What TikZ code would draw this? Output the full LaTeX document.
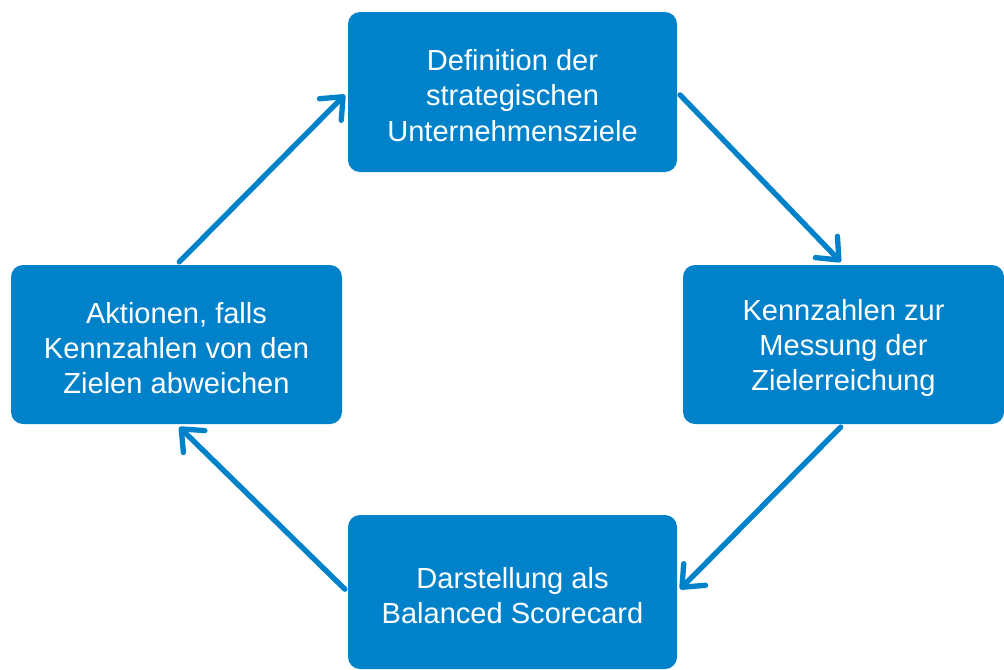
\documentclass[tikz,border=0pt]{standalone}
\usepackage{fontspec}
\setmainfont{Liberation Sans}
\usetikzlibrary{arrows.meta}
\definecolor{boxblue}{HTML}{0082CA}
\newcommand{\toppad}{\rule{0pt}{21pt}}
\tikzset{
  box/.style={draw=none, fill=boxblue, rounded corners=9pt, text=white, align=center,
    inner sep=0pt, font=\fontsize{21.8pt}{26.5pt}\selectfont},
  flow/.style={draw=boxblue, line width=4pt, line cap=round,
    -{Straight Barb[round, length=13.5pt, width=23pt]}, shorten <=3pt, shorten >=3pt}
}
\begin{document}
\begin{tikzpicture}[x=0.75pt, y=-0.75pt]
\useasboundingbox (0,0) rectangle (1004,669);
\node[box, minimum width=246.75pt, minimum height=120pt] (top) at (512.5,92)
  {\toppad Definition der\\strategischen\\Unternehmensziele};
\node[box, minimum width=240.75pt, minimum height=119.25pt] (right) at (843.5,344.5)
  {\toppad Kennzahlen zur\\Messung der\\Zielerreichung};
\node[box, minimum width=248.25pt, minimum height=119.25pt] (left) at (176.5,344.5)
  {\toppad Aktionen, falls\\Kennzahlen von den\\Zielen abweichen};
\node[box, minimum width=246.75pt, minimum height=115.5pt] (bottom) at (512.5,592)
  {\toppad Darstellung als\\Balanced Scorecard};
\draw[flow] (left.north) -- (top.west);
\draw[flow] (top.east) -- (right.north);
\draw[flow] (right.south) -- (bottom.east);
\draw[flow] (bottom.west) -- (left.south);
\end{tikzpicture}
\end{document}
